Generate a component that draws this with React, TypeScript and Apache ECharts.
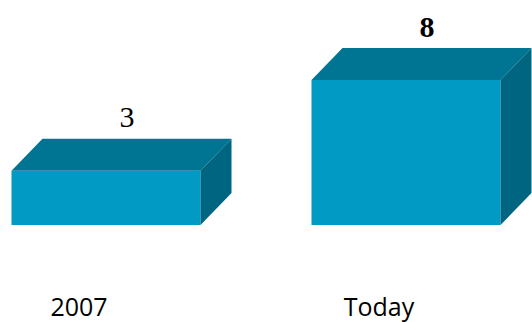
import React, { useEffect, useRef } from "react";
import * as echarts from "echarts";

const categories = ["2007", "Today"];
const values = [3, 8];
const labelWeights = ["normal", "bold"];

const FRONT = "#009AC4";
const TOP = "#007493";
const SIDE = "#006580";

export default function App() {
  const ref = useRef<HTMLDivElement>(null);
  useEffect(() => {
    if (!ref.current) return;
    const chart = echarts.init(ref.current, undefined, { renderer: "svg" });
    const barW = 189;
    const dx = 31;
    const dy = 32;
    chart.setOption({
      animation: false,
      backgroundColor: "#ffffff",
      grid: { left: 106, right: 126, top: 80, bottom: 97 },
      xAxis: {
        type: "category",
        data: categories,
        boundaryGap: false,
        axisLine: { show: false },
        axisTick: { show: false },
        splitLine: { show: false },
        axisLabel: { show: false },
      },
      yAxis: { type: "value", min: 0, max: 8, show: false },
      series: [
        {
          type: "custom",
          clip: false,
          data: values.map((v, i) => [i, v]),
          renderItem: (params: any, api: any) => {
            const i = api.value(0);
            const v = api.value(1);
            const top = api.coord([i, v]);
            const base = api.coord([i, 0]);
            const x0 = top[0] - barW / 2;
            const x1 = top[0] + barW / 2;
            const yt = top[1];
            const yb = base[1];
            return {
              type: "group",
              children: [
                {
                  type: "polygon",
                  shape: { points: [[x0, yt], [x1, yt], [x1, yb], [x0, yb]] },
                  style: { fill: FRONT },
                },
                {
                  type: "polygon",
                  shape: { points: [[x0, yt], [x0 + dx, yt - dy], [x1 + dx, yt - dy], [x1, yt]] },
                  style: { fill: TOP },
                },
                {
                  type: "polygon",
                  shape: { points: [[x1, yt], [x1 + dx, yt - dy], [x1 + dx, yb - dy], [x1, yb]] },
                  style: { fill: SIDE },
                },
                {
                  type: "text",
                  x: top[0] + 21,
                  y: yt - dy - 22,
                  style: {
                    text: String(v),
                    fill: "#000",
                    fontFamily: "Liberation Serif",
                    fontSize: 30,
                    fontWeight: labelWeights[params.dataIndex],
                    align: "center",
                    verticalAlign: "middle",
                  },
                },
                {
                  type: "text",
                  x: top[0] - 27,
                  y: yb + 81,
                  style: {
                    text: categories[i],
                    fill: "#000",
                    fontFamily: "Open Sans",
                    fontSize: 25,
                    align: "center",
                    verticalAlign: "middle",
                  },
                },
              ],
            };
          },
        },
      ],
    });
    return () => chart.dispose();
  }, []);
  return (
    <div
      ref={ref}
      style={{ position: "fixed", left: 0, top: 0, width: 532, height: 322 }}
    />
  );
}
